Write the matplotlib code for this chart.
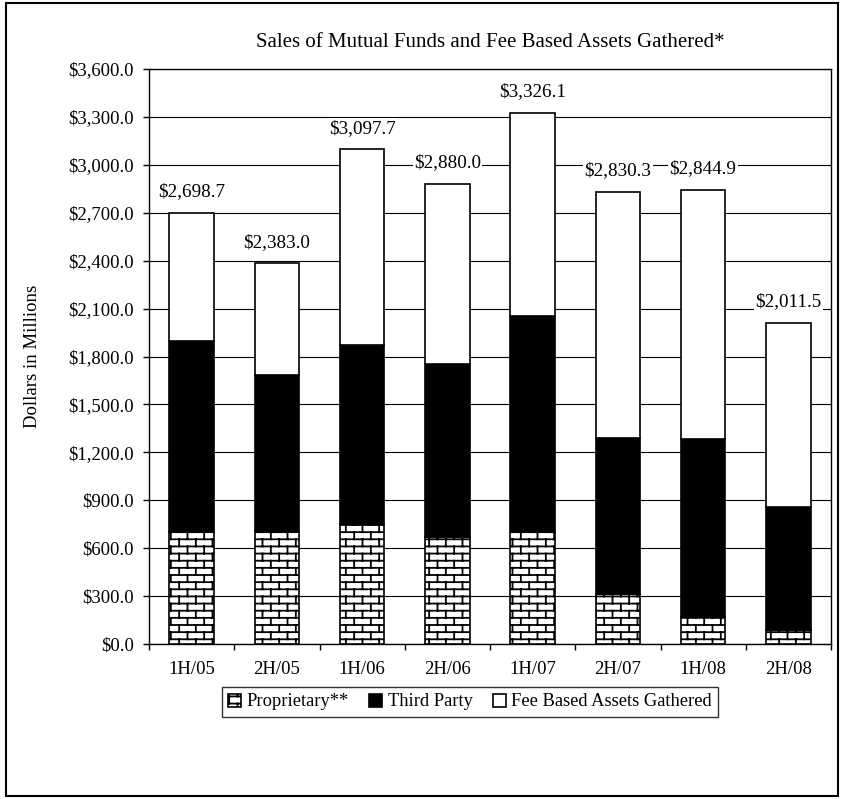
import warnings
import numpy as np
import matplotlib
matplotlib.use('Agg')
import matplotlib.pyplot as plt
import matplotlib.hatch as mhatch
from matplotlib.path import Path
from matplotlib.patches import Rectangle

warnings.filterwarnings('ignore', category=matplotlib.MatplotlibDeprecationWarning)

# Data (US$ millions)
periods = ['1H/05', '2H/05', '1H/06', '2H/06', '1H/07', '2H/07', '1H/08', '2H/08']
totals = [2698.7, 2383.0, 3097.7, 2880.0, 3326.1, 2830.3, 2844.9, 2011.5]
proprietary = [700, 710, 754, 671, 700, 312, 167, 87]
third_party = [1200, 975, 1117, 1079, 1356, 980, 1118, 773]
fee_based = [798.7, 698.0, 1226.7, 1130.0, 1270.1, 1538.3, 1559.9, 1151.5]

y_ticks = np.arange(0, 3601, 300)


# brick pattern as a custom hatch ('B')
class BrickHatch(mhatch.HatchPatternBase):
    rows, cols = 13 * 1 + 1, 6

    def __init__(self, hatch, density):
        on = 'B' in hatch
        self.num_vertices = (self.rows + self.rows * self.cols + self.cols) * 2 if on else 0

    def set_vertices_and_codes(self, vertices, codes):
        r, c = self.rows, self.cols
        segs = []
        for i in range(r):
            y0 = (i + 0.5) / r
            segs.append(((0, y0), (1, y0)))
            for j in range(c):
                x = (j + 0.25 + 0.5 * (i % 2)) / c
                if i < r - 1:
                    segs.append(((x, y0), (x, y0 + 1 / r)))
                else:
                    segs.append(((x, y0), (x, 1.0)))
                    segs.append(((x, 0.0), (x, 0.5 / r)))
        vertices[:] = np.array(segs, dtype=float).reshape(-1, 2)
        codes[0::2] = Path.MOVETO
        codes[1::2] = Path.LINETO


mhatch._hatch_types.append(BrickHatch)

plt.rcParams['font.family'] = 'Liberation Serif'
plt.rcParams['hatch.linewidth'] = 1.3
plt.rcParams['hatch.color'] = 'black'

fig = plt.figure(figsize=(8.44, 7.99), dpi=100)
ax = fig.add_axes([149 / 844, 1 - 644 / 799, (831 - 149) / 844, (644 - 69) / 799])

x = np.arange(len(periods))
w = 0.52
b1 = ax.bar(x, proprietary, w, color='white', edgecolor='black', linewidth=1.2,
            hatch='B', label='Proprietary**', zorder=3)
b2 = ax.bar(x, third_party, w, bottom=proprietary, color='black', edgecolor='black',
            linewidth=1.2, label='Third Party', zorder=3)
bottom2 = np.array(proprietary) + np.array(third_party)
b3 = ax.bar(x, fee_based, w, bottom=bottom2, color='white', edgecolor='black',
            linewidth=1.2, label='Fee Based Assets Gathered', zorder=3)

ax.bar_label(b3, labels=[f'${v:,.1f}' for v in totals], padding=9, fontsize=13.8,
             bbox=dict(facecolor='white', edgecolor='none', pad=1), zorder=4)

ax.set_xlim(-0.5, len(periods) - 0.5)
ax.set_ylim(0, 3600)
ax.set_yticks(y_ticks)
ax.set_yticklabels([f'${v:,.1f}' for v in y_ticks])
ax.set_xticks(x)
ax.set_xticklabels(periods)
ax.set_xticks(np.arange(len(periods) + 1) - 0.5, minor=True)
ax.tick_params(axis='x', which='major', length=0, pad=12, labelsize=13.5)
ax.tick_params(axis='x', which='minor', length=4.3, width=1)
ax.tick_params(axis='y', length=4.3, width=1, pad=6.5, labelsize=13.5)
ax.grid(axis='y', color='black', linewidth=0.8, zorder=0)
ax.set_axisbelow(True)
for s in ax.spines.values():
    s.set_linewidth(1)

ax.set_ylabel('Dollars in Millions', fontsize=13.5)
ax.yaxis.set_label_coords(-0.158, 0.5)
ax.set_title('Sales of Mutual Funds and Fee Based Assets Gathered*', fontsize=15, pad=16)

leg = fig.legend(handles=[b1, b2, b3], loc='center', bbox_to_anchor=(470 / 844, 1 - 702 / 799),
                 ncol=3, fontsize=13.3, frameon=True, fancybox=False, handlelength=0.7,
                 handleheight=0.7, handletextpad=0.3, columnspacing=1.1, borderpad=0.35)
leg.get_frame().set_edgecolor('black')
leg.get_frame().set_linewidth(1)

fig.add_artist(Rectangle((6 / 844, 3 / 799), (838 - 6) / 844, (796 - 3) / 799,
                         transform=fig.transFigure, fill=False, edgecolor='black', linewidth=1.5))

fig.savefig('out.png', dpi=100)
